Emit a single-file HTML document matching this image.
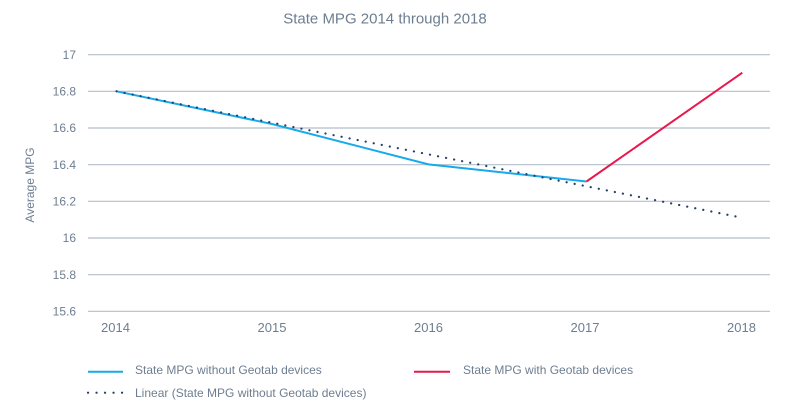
<!DOCTYPE html>
<html><head><meta charset="utf-8"><style>
html,body{margin:0;padding:0;background:#fff;}
svg{display:block;}
text{font-family:"Liberation Sans",Arial,sans-serif;fill:#6e7e91;}
</style></head><body>
<svg width="793" height="413" viewBox="0 0 793 413" xmlns="http://www.w3.org/2000/svg">
<rect width="793" height="413" fill="#fff"/>
<text x="385" y="23.5" font-size="15" text-anchor="middle">State MPG 2014 through 2018</text>
<text transform="translate(34,185) rotate(-90)" font-size="12" text-anchor="middle">Average MPG</text>
<g stroke="#b4bec9" stroke-width="1.2">
<line x1="88" x2="770" y1="54.7" y2="54.7"/>
<line x1="88" x2="770" y1="91.3" y2="91.3"/>
<line x1="88" x2="770" y1="128.0" y2="128.0"/>
<line x1="88" x2="770" y1="164.7" y2="164.7"/>
<line x1="88" x2="770" y1="201.3" y2="201.3"/>
<line x1="88" x2="770" y1="238.0" y2="238.0"/>
<line x1="88" x2="770" y1="274.7" y2="274.7"/>
<line x1="88" x2="770" y1="311.3" y2="311.3"/>
</g>
<g font-size="12" text-anchor="end">
<text x="76" y="59">17</text>
<text x="76" y="95.5">16.8</text>
<text x="76" y="132.2">16.6</text>
<text x="76" y="168.9">16.4</text>
<text x="76" y="205.5">16.2</text>
<text x="76" y="242.2">16</text>
<text x="76" y="278.9">15.8</text>
<text x="76" y="315.5">15.6</text>
</g>
<g font-size="13" text-anchor="middle">
<text x="115.5" y="332">2014</text>
<text x="272" y="332">2015</text>
<text x="428.5" y="332">2016</text>
<text x="585" y="332">2017</text>
<text x="741.5" y="332">2018</text>
</g>
<polyline points="116.5,91.3 272,124 428.5,164.4 586.5,181.5" fill="none" stroke="#16aaea" stroke-width="2"/>
<polyline points="586.5,181.5 742.3,72.7" fill="none" stroke="#e8184f" stroke-width="2"/>
<line x1="116.5" y1="91.3" x2="742" y2="217.7" stroke="#24406c" stroke-width="2.2" stroke-linecap="round" stroke-dasharray="0.1 8.1"/>
<line x1="88" y1="371.7" x2="123" y2="371.7" stroke="#16aaea" stroke-width="2"/>
<text x="135" y="374" font-size="12">State MPG without Geotab devices</text>
<line x1="414" y1="371.7" x2="450" y2="371.7" stroke="#e8184f" stroke-width="2"/>
<text x="463" y="374" font-size="12">State MPG with Geotab devices</text>
<line x1="88" y1="392.7" x2="124" y2="392.7" stroke="#24406c" stroke-width="2.2" stroke-linecap="round" stroke-dasharray="0.1 8.4"/>
<text x="135" y="397" font-size="12">Linear (State MPG without Geotab devices)</text>
</svg>
</body></html>
